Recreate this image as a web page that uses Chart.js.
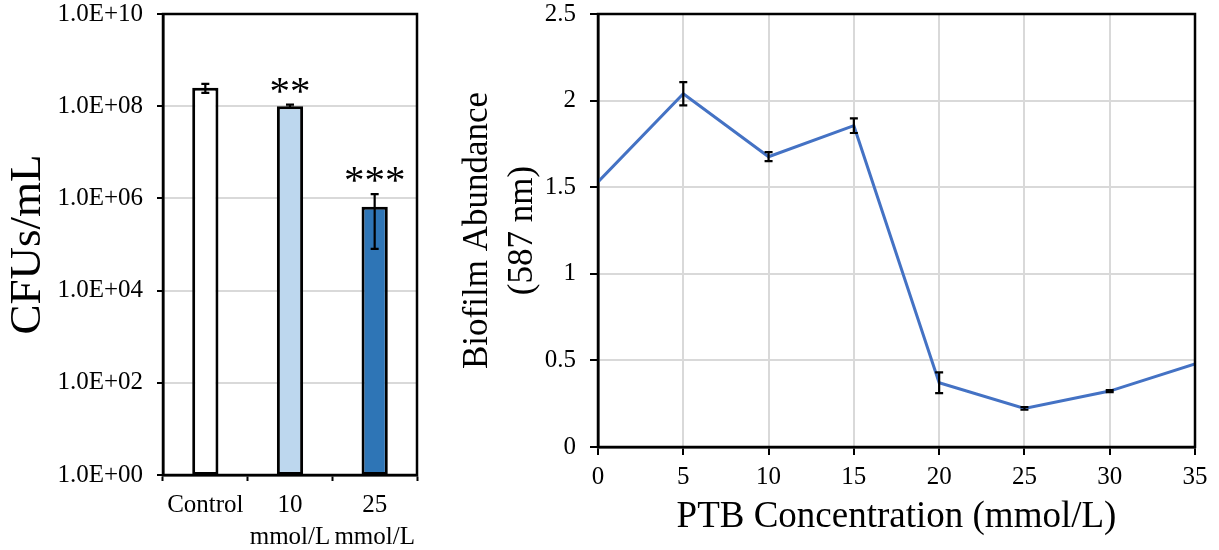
<!DOCTYPE html>
<html>
<head>
<meta charset="utf-8">
<script src="https://cdn.jsdelivr.net/npm/chart.js@4/dist/chart.umd.min.js"></script>
<style>
  html, body { margin: 0; padding: 0; background: #ffffff; }
  #wrap { position: relative; width: 1219px; height: 550px; overflow: hidden; background: #ffffff; }
  #cfuBox { position: absolute; left: 0; top: 0; width: 430px; height: 550px; }
  #bioBox { position: absolute; left: 430px; top: 0; width: 789px; height: 550px; }
</style>
</head>
<body>
<div id="wrap">
  <div id="cfuBox"><canvas id="cfu"></canvas></div>
  <div id="bioBox"><canvas id="bio"></canvas></div>
</div>
<script>
// Viable counts per treatment (log axis)
const cfuGroups = [['Control'], ['10', 'mmol/L'], ['25', 'mmol/L']];
const cfuMeans = [2.5e8, 1.0e8, 6.6e5];
const cfuErrors = [0.55e8, 0.08e8, 5.8e5];
const cfuMarks = ['', '**', '***'];
const cfuColors = ['#ffffff', '#bdd7ee', '#2e75b6'];
const cfuTicks = [1e0, 1e2, 1e4, 1e6, 1e8, 1e10];
const cfuTickLabels = ['1.0E+00', '1.0E+02', '1.0E+04', '1.0E+06', '1.0E+08', '1.0E+10'];

// Biofilm abundance across PTB concentrations
const ptbConc = [0, 5, 10, 15, 20, 25, 30, 35];
const biofilmMeans = [1.53, 2.04, 1.676, 1.855, 0.371, 0.223, 0.323, 0.479];
const biofilmErrors = [0, 0.067, 0.026, 0.042, 0.06, 0.008, 0.006, 0];
const bioTicks = [0, 0.5, 1, 1.5, 2, 2.5];
const bioTickLabels = ['0', '0.5', '1', '1.5', '2', '2.5'];

const SERIF = "'Liberation Serif', 'Times New Roman', Times, serif";
Chart.defaults.font.family = SERIF;
Chart.defaults.color = '#000000';
Chart.defaults.animation = false;

// Fixed axis box sizes so both plot areas sit where they should
function fixVertical(width) {
  return function (scale) {
    scale.width = width;
    scale.paddingTop = 0;
    scale.paddingBottom = 0;
  };
}
function fixHorizontal(height) {
  return function (scale) {
    scale.height = height;
  };
}

// Black box round the plot area
const framePlugin = {
  id: 'frame',
  afterDraw(chart) {
    const { ctx, chartArea: a } = chart;
    ctx.save();
    ctx.strokeStyle = '#000000';
    ctx.lineWidth = 2.5;
    ctx.strokeRect(a.left, a.top, a.right - a.left, a.bottom - a.top);
    ctx.restore();
  }
};

// Symmetric error bars with small caps, plus optional significance marks
const errorBarPlugin = {
  id: 'errorBars',
  afterDatasetsDraw(chart, args, opts) {
    const { ctx } = chart;
    const yScale = chart.scales.y;
    const meta = chart.getDatasetMeta(0);
    const means = opts.means, errs = opts.errors;
    ctx.save();
    ctx.strokeStyle = '#000000';
    ctx.lineWidth = 2.2;
    meta.data.forEach((el, i) => {
      const m = means[i], e = errs[i];
      const x = el.x;
      const yTop = yScale.getPixelForValue(m + e);
      const yBot = yScale.getPixelForValue(m - e);
      if (e > 0) {
        ctx.beginPath();
        ctx.moveTo(x, yTop); ctx.lineTo(x, yBot);
        ctx.moveTo(x - opts.cap, yTop); ctx.lineTo(x + opts.cap, yTop);
        ctx.moveTo(x - opts.cap, yBot); ctx.lineTo(x + opts.cap, yBot);
        ctx.stroke();
      }
      if (opts.marks && opts.marks[i]) {
        ctx.fillStyle = '#000000';
        ctx.font = '41px ' + SERIF;
        ctx.textAlign = 'center';
        ctx.textBaseline = 'alphabetic';
        ctx.fillText(opts.marks[i], x, yTop - opts.markGap);
      }
    });
    ctx.restore();
  }
};

new Chart(document.getElementById('cfu'), {
  type: 'bar',
  data: {
    labels: cfuGroups,
    datasets: [{
      data: cfuMeans,
      backgroundColor: cfuColors,
      borderColor: '#000000',
      borderWidth: 3,
      borderSkipped: false,
      barPercentage: 0.31,
      categoryPercentage: 1.0
    }]
  },
  options: {
    responsive: true,
    maintainAspectRatio: false,
    devicePixelRatio: 1,
    layout: { padding: { top: 14, right: 13, left: 0, bottom: 0 } },
    plugins: {
      legend: { display: false },
      tooltip: { enabled: false },
      errorBars: { means: cfuMeans, errors: cfuErrors, cap: 4, marks: cfuMarks, markGap: 1 }
    },
    scales: {
      x: {
        type: 'category',
        offset: true,
        grid: { display: true, drawOnChartArea: false, drawTicks: true, tickLength: 6, tickColor: '#000000', tickWidth: 2, offset: true },
        border: { color: '#000000', width: 2.5 },
        ticks: { font: { size: 25, lineHeight: 1.28 }, padding: 8, maxRotation: 0, autoSkip: false, color: '#000000' },
        afterFit: fixHorizontal(75)
      },
      y: {
        type: 'logarithmic',
        min: 1,
        max: 1e10,
        afterBuildTicks(scale) { scale.ticks = cfuTicks.map(v => ({ value: v })); },
        grid: { color: '#d9d9d9', lineWidth: 2, tickColor: '#000000', tickWidth: 2, tickLength: 6 },
        border: { color: '#000000', width: 2.5 },
        ticks: {
          font: { size: 25 }, padding: 14, autoSkip: false, color: '#000000',
          callback(value, index) { return cfuTickLabels[cfuTicks.indexOf(value)] ?? cfuTickLabels[index]; }
        },
        title: { display: true, text: 'CFUs/mL', font: { size: 45 }, padding: { top: 1, bottom: 0 }, color: '#000000' },
        afterFit: fixVertical(163)
      }
    }
  },
  plugins: [errorBarPlugin, framePlugin]
});

new Chart(document.getElementById('bio'), {
  type: 'line',
  data: {
    datasets: [{
      data: ptbConc.map((c, i) => ({ x: c, y: biofilmMeans[i] })),
      borderColor: '#4472c4',
      borderWidth: 3,
      pointRadius: 0,
      tension: 0,
      fill: false
    }]
  },
  options: {
    responsive: true,
    maintainAspectRatio: false,
    devicePixelRatio: 1,
    layout: { padding: { top: 14, right: 24, left: 0, bottom: 0 } },
    plugins: {
      legend: { display: false },
      tooltip: { enabled: false },
      errorBars: { means: biofilmMeans, errors: biofilmErrors, cap: 4, marks: null, markGap: 0 }
    },
    scales: {
      x: {
        type: 'linear',
        min: 0,
        max: 35,
        grid: { color: '#d9d9d9', lineWidth: 2, tickColor: '#000000', tickWidth: 2, tickLength: 8 },
        border: { color: '#000000', width: 2.5 },
        ticks: { stepSize: 5, font: { size: 25 }, padding: 7, maxRotation: 0, color: '#000000' },
        title: { display: true, text: 'PTB Concentration (mmol/L)', font: { size: 37 }, padding: { top: 0, bottom: 11 }, color: '#000000' },
        afterFit: fixHorizontal(103)
      },
      y: {
        type: 'linear',
        min: 0,
        max: 2.5,
        afterBuildTicks(scale) { scale.ticks = bioTicks.map(v => ({ value: v })); },
        grid: { color: '#d9d9d9', lineWidth: 2, tickColor: '#000000', tickWidth: 2, tickLength: 8 },
        border: { color: '#000000', width: 2.5 },
        ticks: {
          font: { size: 25 }, padding: 14, color: '#000000',
          callback(value, index) { return bioTickLabels[bioTicks.indexOf(value)] ?? bioTickLabels[index]; }
        },
        title: { display: true, text: ['Biofilm Abundance', '(587 nm)'], font: { size: 35, lineHeight: 1.2857 }, padding: { top: 25, bottom: 0 }, color: '#000000' },
        afterFit: fixVertical(168)
      }
    }
  },
  plugins: [errorBarPlugin, framePlugin]
});
</script>
</body>
</html>
